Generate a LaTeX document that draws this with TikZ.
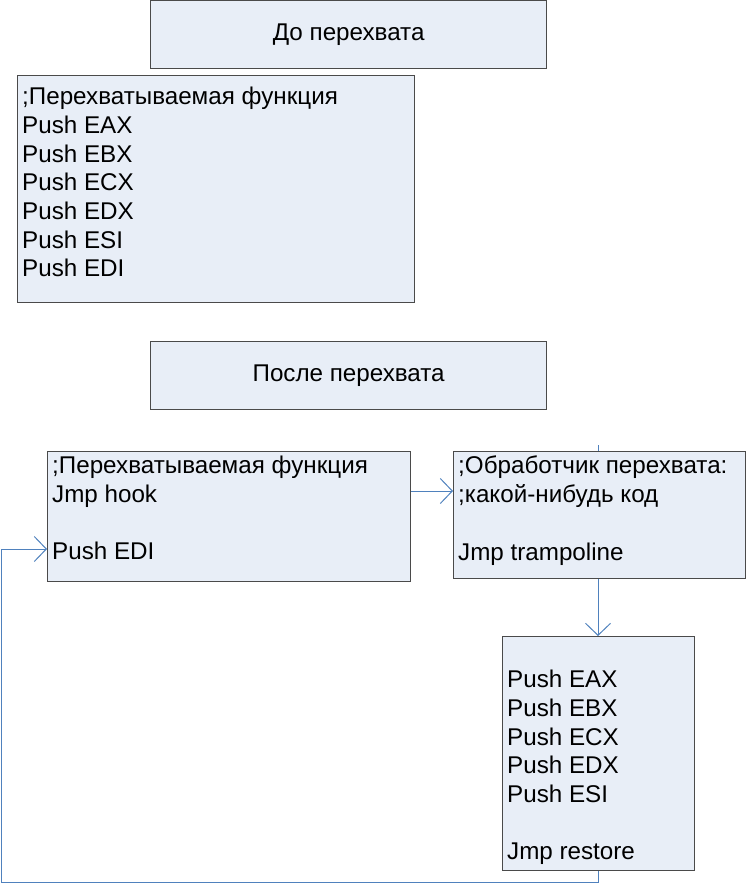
\documentclass[tikz,border=0pt]{standalone}
\usepackage{fontspec}
\setmainfont{Liberation Sans}
\usetikzlibrary{arrows.meta,calc}
\definecolor{boxfill}{HTML}{E8EEF7}
\definecolor{boxdraw}{HTML}{4A4A4A}
\definecolor{conn}{HTML}{4F81BD}
\tikzset{
  box/.style={draw=boxdraw, line width=1.3pt, fill=boxfill, rectangle, inner sep=0pt, anchor=north west},
  txt/.style={inner sep=0pt, anchor=north west, align=left, font=\fontsize{24.2pt}{28.7pt}\selectfont},
  ttl/.style={inner sep=0pt, font=\fontsize{24.2pt}{28.7pt}\selectfont},
  link/.style={draw=conn, line width=1pt},
  arr/.style={link, -{Straight Barb[length=12pt,width=25pt,line width=1pt]}}
}
\begin{document}
\begin{tikzpicture}[x=1pt,y=-1pt]
\useasboundingbox (0,0) rectangle (746,885);
\clip (0,0) rectangle (746,885);
% boxes
\node[box, minimum width=396pt, minimum height=68pt] (t1) at (150,0) {};
\node[ttl] at (t1.center) {До перехвата};
\node[box, minimum width=397pt, minimum height=227pt] (c1) at (17,75) {};
\node[txt] at (22,87) {;Перехватываемая функция\\Push EAX\\Push EBX\\Push ECX\\Push EDX\\Push ESI\\Push EDI};
\node[box, minimum width=396pt, minimum height=68pt] (t2) at (150,341) {};
\node[ttl] at (t2.center) {После перехвата};
\node[box, minimum width=363pt, minimum height=130pt] (f) at (47,451) {};
\node[txt] at (52,456) {;Перехватываемая функция\\Jmp hook\\[28.7pt]Push EDI};
\node[box, minimum width=292pt, minimum height=127pt] (h) at (453,451) {};
\node[txt] at (458,456) {;Обработчик перехвата:\\;какой-нибудь код\\[28.7pt]Jmp trampoline};
\node[box, minimum width=192pt, minimum height=234pt] (tr) at (502,636) {};
\node[txt] at (507,670) {Push EAX\\Push EBX\\Push ECX\\Push EDX\\Push ESI\\[28.7pt]Jmp restore};
% connectors
\coordinate (s1) at (598,445);
\coordinate (c1) at (1,882);
\coordinate (c2) at (1,549);
\draw[link] (s1) -- (h.north -| s1);
\draw[arr] (f.east |- 0,491) -- (h.west |- 0,491);
\draw[arr] (h.south -| s1) -- (tr.north -| s1);
\draw[arr] (tr.south -| s1) -- (c1 -| s1) -- (c1) -- (c2) -- (f.west |- c2);
\end{tikzpicture}
\end{document}
